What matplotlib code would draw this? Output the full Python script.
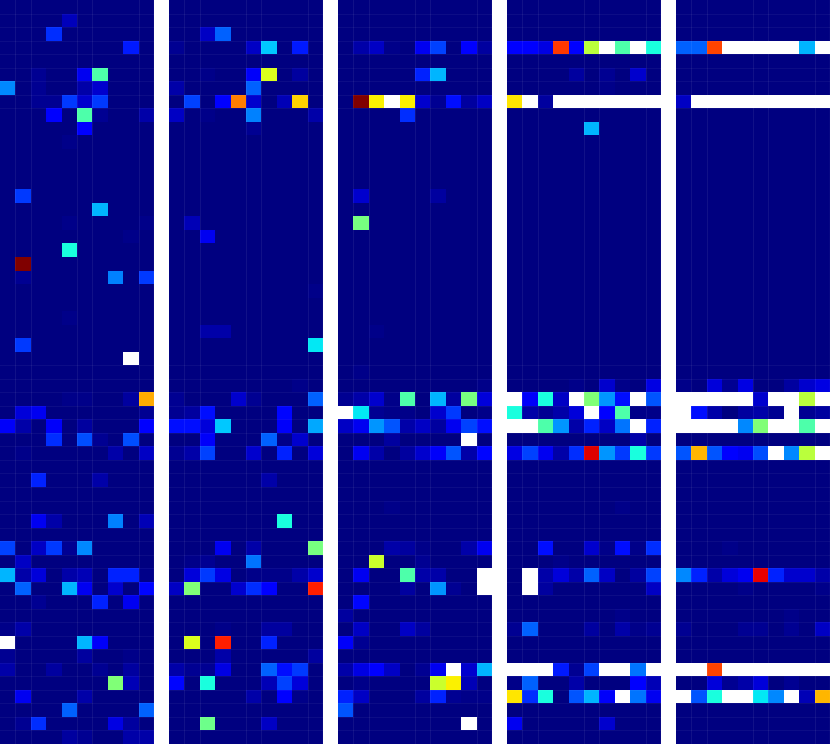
import numpy as np
import matplotlib
matplotlib.use('Agg')
import matplotlib.pyplot as plt

W = 2.0  # above the colour range, drawn white
N_ROWS = 55
N_COLS = 10

# {row: {column: value}}, all other cells are 0
panel_1 = {
    1: {4: .066}, 2: {3: .18}, 3: {3: .015, 8: .16},
    5: {2: .03, 5: .11, 6: .45},
    6: {0: .27, 2: .03, 5: .05, 6: .08},
    7: {2: .03, 3: .03, 4: .19, 5: .08, 6: .19},
    8: {3: .13, 5: .45, 6: .03, 9: .05},
    9: {5: .13}, 10: {4: .02},
    14: {1: .19}, 15: {5: .015, 6: .31}, 16: {4: .02, 9: .02}, 17: {8: .02},
    18: {4: .39}, 19: {1: 1.0}, 20: {1: .03, 7: .26, 9: .19},
    23: {4: .02}, 25: {1: .19}, 26: {8: W},
    28: {9: .01},
    29: {4: .02, 5: .02, 8: .04, 9: .73},
    30: {1: .09, 2: .11, 9: .03},
    31: {0: .12, 1: .05, 3: .12, 5: .04, 9: .13},
    32: {3: .18, 5: .21, 6: .03, 8: .21},
    33: {1: .02, 7: .05, 9: .07},
    35: {2: .17, 6: .05},
    38: {2: .11, 3: .05, 7: .26, 9: .06},
    40: {0: .2, 2: .07, 3: .19, 4: .03, 5: .27},
    41: {1: .07},
    42: {0: .31, 1: .05, 2: .09, 3: .01, 4: .05, 5: .06, 6: .01, 7: .17, 8: .17, 9: .02},
    43: {1: .23, 4: .31, 5: .11, 7: .08, 8: .01, 9: .14},
    44: {2: .03, 6: .17, 8: .11},
    45: {0: .01}, 46: {0: .02, 1: .05},
    47: {0: W, 5: .31, 6: .12},
    48: {0: .03, 5: .04, 8: .02},
    49: {0: .05, 3: .04, 6: .03, 8: .04},
    50: {7: .51, 8: .06},
    51: {1: .11, 5: .05},
    52: {1: .015, 4: .23, 9: .23},
    53: {1: .03, 2: .18, 7: .1, 8: .04},
    54: {4: .04, 5: .03, 8: .05, 9: .05},
}

panel_2 = {
    2: {2: .07, 3: .23},
    3: {0: .03, 3: .015, 5: .07, 6: .33, 8: .16},
    5: {2: .02, 5: .12, 6: .62, 8: .04},
    6: {0: .05, 5: .23},
    7: {1: .2, 3: .13, 4: .78, 5: .08, 6: .01, 7: .06, 8: .69},
    8: {0: .07, 2: .02, 5: .26, 6: .015, 7: .015, 8: .015, 9: .05},
    9: {5: .03},
    16: {1: .06}, 17: {2: .11}, 21: {9: .02}, 24: {2: .05, 3: .05}, 25: {9: .36},
    28: {8: .02},
    29: {0: .03, 4: .08, 5: .03, 9: .23},
    30: {0: .03, 1: .04, 2: .15, 7: .14},
    31: {0: .15, 1: .15, 2: .09, 3: .33, 7: .12, 9: .3},
    32: {2: .12, 6: .23, 7: .02, 8: .08},
    33: {0: .03, 1: .05, 2: .2, 5: .08, 7: .17, 9: .09},
    35: {6: .05},
    38: {7: .39},
    40: {3: .11, 5: .05, 9: .5},
    41: {1: .02, 2: .03, 5: .25},
    42: {1: .09, 2: .19, 3: .1, 4: .015, 5: .02, 6: .02, 7: .02, 8: .05, 9: .08},
    43: {0: .07, 1: .51, 4: .08, 5: .18, 6: .13, 9: .88},
    46: {3: .02, 6: .04, 7: .04},
    47: {1: .62, 3: .88, 6: .17},
    48: {3: .05, 9: .04},
    49: {0: .05, 1: .03, 2: .03, 3: .1, 6: .23, 7: .15, 8: .19},
    50: {0: .14, 2: .39, 6: .06, 7: .2, 8: .09},
    51: {5: .05, 7: .13, 8: .02},
    53: {2: .49, 6: .07},
    54: {4: .01},
}

panel_3 = {
    2: {2: .015},
    3: {1: .05, 2: .07, 3: .02, 4: .01, 5: .11, 6: .2, 8: .13, 9: .04},
    5: {5: .17, 6: .31},
    7: {1: 1.0, 2: .66, 3: W, 4: .66, 5: .08, 6: .03, 7: .15, 8: .04, 9: .07},
    8: {4: .18, 7: .015},
    14: {1: .08, 6: .04}, 16: {1: .5}, 24: {2: .02}, 27: {1: .02},
    28: {9: .02},
    29: {0: .03, 1: .05, 2: .08, 3: .02, 4: .45, 5: .01, 6: .31, 7: .04, 8: .5, 9: .09},
    30: {0: W, 1: .36, 2: .03, 3: .02, 4: .02, 5: .01, 6: .08, 7: .19, 8: .01, 9: .02},
    31: {0: .07, 1: .11, 2: .28, 3: .22, 4: .05, 5: .07, 6: .04, 7: .11, 8: .2, 9: .15},
    32: {3: .04, 8: W},
    33: {1: .11, 2: .05, 4: .04, 5: .08, 6: .12, 7: .22, 8: .05, 9: .14},
    37: {3: .02, 7: .015},
    40: {3: .05, 4: .04, 5: .02, 8: .05, 9: .11},
    41: {2: .6, 5: .03},
    42: {1: .11, 4: .45, 5: .05, 6: .05, 9: W},
    43: {4: .04, 6: .28, 7: .03, 9: W},
    44: {1: .14},
    45: {0: .04, 1: .01},
    46: {1: .07, 4: .07, 5: .04},
    47: {0: .12, 1: .03},
    48: {1: .01},
    49: {0: .05, 1: .1, 2: .13, 3: .07, 5: .03, 6: .11, 7: W, 8: .08, 9: .31},
    50: {1: .02, 6: .6, 7: .66, 8: .06},
    51: {0: .17, 1: .07, 5: .04, 6: .17, 7: .03, 8: .02, 9: .02},
    52: {0: .22},
    53: {8: W},
}

panel_4 = {
    3: {0: .13, 1: .13, 2: .1, 3: .85, 4: .13, 5: .58, 6: W, 7: .45, 8: W, 9: .39},
    5: {4: .04, 6: .03, 8: .08},
    6: {6: .02},
    7: {0: .67, 1: W, 2: .04, 3: W, 4: W, 5: W, 6: W, 7: W, 8: W, 9: W},
    9: {5: .31},
    28: {4: .02, 6: .08, 7: .02, 9: .1},
    29: {0: W, 1: .12, 2: .39, 3: .07, 4: W, 5: .51, 6: .28, 7: .15, 8: W, 9: .22},
    30: {0: .39, 1: .05, 2: .03, 3: .05, 4: .09, 5: W, 6: .13, 7: .45, 8: .02, 9: .02},
    31: {0: W, 1: W, 2: .45, 3: .28, 4: .05, 5: .17, 6: .07, 7: .25, 8: W, 9: .17},
    32: {8: .05, 9: .01},
    33: {0: .1, 1: .2, 2: .11, 3: .05, 4: .18, 5: .916, 6: .28, 7: .19, 8: .39, 9: .19},
    37: {7: .02},
    40: {2: .15, 5: .08, 6: .02, 7: .15, 8: .02, 9: .18},
    41: {3: .02},
    42: {1: W, 2: .05, 3: .09, 4: .05, 5: .23, 6: .07, 7: .01, 8: .04, 9: .2},
    43: {1: W, 2: .04, 9: .07},
    45: {1: .015, 3: .015, 7: .02},
    46: {0: .03, 1: .23, 5: .04, 7: .05, 8: .02, 9: .03},
    49: {0: W, 1: W, 2: W, 3: .16, 4: .03, 5: .2, 6: W, 7: W, 8: .25, 9: W},
    50: {0: .02, 1: .23, 4: .05, 8: .13, 9: .06},
    51: {0: .67, 1: .18, 2: .39, 4: .22, 5: .31, 6: .12, 7: W, 8: .25, 9: .11},
    53: {0: .11, 6: .08},
}

panel_5 = {
    3: {0: .23, 1: .23, 2: .84, 3: W, 4: W, 5: W, 6: W, 7: W, 8: .31, 9: W},
    7: {0: .07, 1: W, 2: W, 3: W, 4: W, 5: W, 6: W, 7: W, 8: W, 9: W},
    28: {0: .02, 1: .01, 2: .09, 3: .03, 4: .1, 5: .01, 6: .015, 7: .04, 8: .08, 9: .1},
    29: {0: W, 1: W, 2: W, 3: W, 4: W, 5: .08, 6: W, 7: W, 8: .58, 9: W},
    30: {0: W, 1: .15, 2: .05, 3: .01, 4: .04, 5: .05, 6: .03, 7: W, 8: .03, 9: .04},
    31: {0: W, 1: W, 2: W, 3: W, 4: .27, 5: .51, 6: W, 7: W, 8: .45, 9: W},
    33: {0: .22, 1: .72, 2: .22, 3: .13, 4: .11, 5: .21, 6: W, 7: .27, 8: .58, 9: W},
    37: {7: .015},
    40: {3: .02},
    42: {0: .27, 1: .17, 2: .05, 3: .09, 4: .11, 5: .91, 6: .17, 7: .08, 8: .08, 9: .05},
    43: {4: .02, 9: .02},
    45: {7: .02},
    46: {0: .03, 2: .015, 3: .015, 4: .03, 5: .03, 7: .03, 8: .015, 9: .07},
    48: {3: .015},
    49: {0: W, 1: W, 2: .84, 3: W, 4: W, 5: W, 6: W, 7: W, 8: W, 9: W},
    50: {2: .09, 3: .03, 4: .05, 5: .09, 7: .03, 8: .01, 9: .01},
    51: {0: W, 1: .22, 2: .39, 3: W, 4: W, 5: .36, 6: .27, 7: W, 8: .06, 9: .72},
}

panels = [panel_1, panel_2, panel_3, panel_4, panel_5]
panel_left = [0, 169, 338, 507, 676]  # pixels
panel_width = 154


def to_matrix(cells):
    m = np.zeros((N_ROWS, N_COLS))
    for row, vals in cells.items():
        for col, v in vals.items():
            m[row, col] = v
    return m


def main():
    cmap = plt.get_cmap('jet').copy()
    cmap.set_over('white')
    cmap.set_under(cmap(0))

    fig = plt.figure(figsize=(8.30, 7.44), dpi=100)
    for left, cells in zip(panel_left, panels):
        ax = fig.add_axes([left / 830, 0, panel_width / 830, 1])
        # vmin a bit above 0, the faintest cells are close to the background
        ax.pcolormesh(to_matrix(cells), cmap=cmap, vmin=0.012, vmax=1)
        ax.set_xlim(0, N_COLS)
        ax.set_ylim(N_ROWS, 0)
        ax.axis('off')
        # the faint seams between cells
        for x in [1, 2, 5, 6, 9]:
            ax.axvline(x, color='white', alpha=0.07, lw=0.8)
        for y in list(range(1, 9)) + list(range(27, N_ROWS)):
            ax.axhline(y, color='white', alpha=0.05, lw=0.8)
        ax.axvline(N_COLS - 0.03, color='white', alpha=0.6, lw=0.8)

    fig.savefig('out.png', dpi=100)


if __name__ == "__main__":
    main()
